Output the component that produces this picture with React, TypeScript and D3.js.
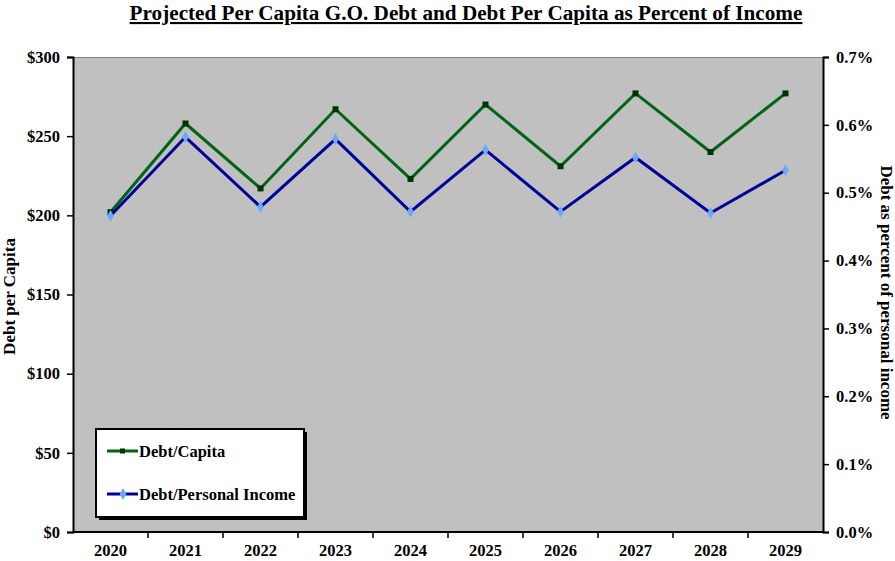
import React, { useEffect, useRef } from "react";
import * as d3 from "d3";

const years = ["2020", "2021", "2022", "2023", "2024", "2025", "2026", "2027", "2028", "2029"];
const debtPerCapita = [202, 258, 217, 267, 223, 270, 231, 277, 240, 277];
const debtPctIncome = [0.466, 0.582, 0.479, 0.579, 0.472, 0.563, 0.472, 0.552, 0.47, 0.533];
const leftTicks = [0, 50, 100, 150, 200, 250, 300];
const rightTicks = [0, 0.1, 0.2, 0.3, 0.4, 0.5, 0.6, 0.7];

const W = 895;
const H = 561;
const FONT = "'Liberation Serif', 'Times New Roman', serif";

export default function App() {
  const ref = useRef<SVGSVGElement>(null);

  useEffect(() => {
    const svg = d3.select(ref.current);
    svg.selectAll("*").remove();

    const margin = { top: 57, right: 72, bottom: 29, left: 73 };
    const width = W - margin.left - margin.right;
    const height = H - margin.top - margin.bottom;

    const x = d3.scaleBand().domain(years).range([0, width]);
    const yL = d3.scaleLinear().domain([0, 300]).range([height, 0]);
    const yR = d3.scaleLinear().domain([0, 0.7]).range([height, 0]);

    // title
    svg
      .append("text")
      .attr("x", 466)
      .attr("y", 20)
      .attr("text-anchor", "middle")
      .style("font-family", FONT)
      .style("font-weight", "bold")
      .style("font-size", "21.2px")
      .style("text-decoration", "underline")
      .text("Projected Per Capita G.O. Debt and Debt Per Capita as Percent of Income");

    const g = svg.append("g").attr("transform", `translate(${margin.left},${margin.top})`);

    g.append("rect").attr("width", width).attr("height", height).attr("fill", "#c0c0c0");
    g.append("line")
      .attr("x1", 0)
      .attr("x2", width)
      .attr("y1", 0.5)
      .attr("y2", 0.5)
      .attr("stroke", "#808080")
      .attr("stroke-width", 1);

    const styleAxis = (sel: any) => {
      sel.select(".domain").attr("stroke", "#000").attr("stroke-width", 2);
      sel.selectAll(".tick line").attr("stroke", "#000").attr("stroke-width", 1.5);
      sel.selectAll("text")
        .style("font-family", FONT)
        .style("font-weight", "bold")
        .style("font-size", "16.5px")
        .attr("fill", "#000");
    };

    // left axis
    g.append("g")
      .call(
        d3.axisLeft(yL)
          .tickValues(leftTicks)
          .tickSize(6)
          .tickSizeOuter(6)
          .tickPadding(7)
          .tickFormat((d: any) => "$" + d)
      )
      .call(styleAxis);

    // right axis
    g.append("g")
      .attr("transform", `translate(${width},0)`)
      .call(
        d3.axisRight(yR)
          .tickValues(rightTicks)
          .tickSize(6)
          .tickSizeOuter(6)
          .tickPadding(7)
          .tickFormat((d: any) => d3.format(".1f")(d) + "%")
      )
      .call(styleAxis);

    // bottom axis: ticks between categories
    const xAxis = g.append("g").attr("transform", `translate(0,${height})`);
    xAxis
      .append("line")
      .attr("x1", 0)
      .attr("x2", width)
      .attr("stroke", "#000")
      .attr("stroke-width", 2);
    xAxis
      .selectAll("line.sep")
      .data(years.slice(1))
      .enter()
      .append("line")
      .attr("class", "sep")
      .attr("x1", (d) => x(d)!)
      .attr("x2", (d) => x(d)!)
      .attr("y1", 0)
      .attr("y2", 6)
      .attr("stroke", "#000")
      .attr("stroke-width", 1.5);
    xAxis
      .selectAll("text")
      .data(years)
      .enter()
      .append("text")
      .attr("x", (d) => x(d)! + x.bandwidth() / 2)
      .attr("y", 24)
      .attr("text-anchor", "middle")
      .style("font-family", FONT)
      .style("font-weight", "bold")
      .style("font-size", "16.5px")
      .text((d) => d);

    // axis titles
    svg
      .append("text")
      .attr("transform", `translate(15,${margin.top + height / 2 + 2}) rotate(-90)`)
      .attr("text-anchor", "middle")
      .style("font-family", FONT)
      .style("font-weight", "bold")
      .style("font-size", "17px")
      .text("Debt per Capita");
    svg
      .append("text")
      .attr("transform", `translate(881,${margin.top + height / 2 - 2}) rotate(90)`)
      .attr("text-anchor", "middle")
      .style("font-family", FONT)
      .style("font-weight", "bold")
      .style("font-size", "17px")
      .text("Debt as percent of  personal income");

    const cx = (i: number) => x(years[i])! + x.bandwidth() / 2;

    // green line
    const lineL = d3.line<number>().x((_, i) => cx(i)).y((d) => yL(d));
    g.append("path")
      .datum(debtPerCapita)
      .attr("d", lineL)
      .attr("fill", "none")
      .attr("stroke", "#006414")
      .attr("stroke-width", 3);
    g.selectAll("rect.mk")
      .data(debtPerCapita)
      .enter()
      .append("rect")
      .attr("class", "mk")
      .attr("x", (_, i) => cx(i) - 3)
      .attr("y", (d) => yL(d) - 3)
      .attr("width", 6)
      .attr("height", 6)
      .attr("fill", "#003300");

    // blue line
    const lineR = d3.line<number>().x((_, i) => cx(i)).y((d) => yR(d));
    g.append("path")
      .datum(debtPctIncome)
      .attr("d", lineR)
      .attr("fill", "none")
      .attr("stroke", "#000099")
      .attr("stroke-width", 3);
    const diamond = d3.symbol().type(d3.symbolDiamond).size(40);
    g.selectAll("path.dm")
      .data(debtPctIncome)
      .enter()
      .append("path")
      .attr("class", "dm")
      .attr("d", diamond)
      .attr("transform", (d, i) => `translate(${cx(i)},${yR(d)})`)
      .attr("fill", "#66aaff");

    // legend
    const leg = svg.append("g").attr("transform", "translate(96,429)");
    leg.append("rect").attr("x", 3).attr("y", 3).attr("width", 208).attr("height", 88).attr("fill", "#000");
    leg.append("rect")
      .attr("width", 208)
      .attr("height", 88)
      .attr("fill", "#fff")
      .attr("stroke", "#000")
      .attr("stroke-width", 2);
    const items = [
      { label: "Debt/Capita", color: "#006414", mark: "square", y: 22 },
      { label: "Debt/Personal Income", color: "#000099", mark: "diamond", y: 65 },
    ];
    items.forEach((it) => {
      leg.append("line")
        .attr("x1", 11)
        .attr("x2", 42)
        .attr("y1", it.y)
        .attr("y2", it.y)
        .attr("stroke", it.color)
        .attr("stroke-width", 3);
      if (it.mark === "square") {
        leg.append("rect").attr("x", 24).attr("y", it.y - 2.5).attr("width", 5).attr("height", 5).attr("fill", "#003300");
      } else {
        leg.append("path").attr("d", diamond).attr("transform", `translate(27,${it.y})`).attr("fill", "#66aaff");
      }
      leg.append("text")
        .attr("x", 43)
        .attr("y", it.y + 6)
        .style("font-family", FONT)
        .style("font-weight", "bold")
        .style("font-size", "16.5px")
        .text(it.label);
    });
  }, []);

  return (
    <svg
      ref={ref}
      width={W}
      height={H}
      style={{ position: "absolute", left: 0, top: 0, background: "#fff" }}
    />
  );
}
